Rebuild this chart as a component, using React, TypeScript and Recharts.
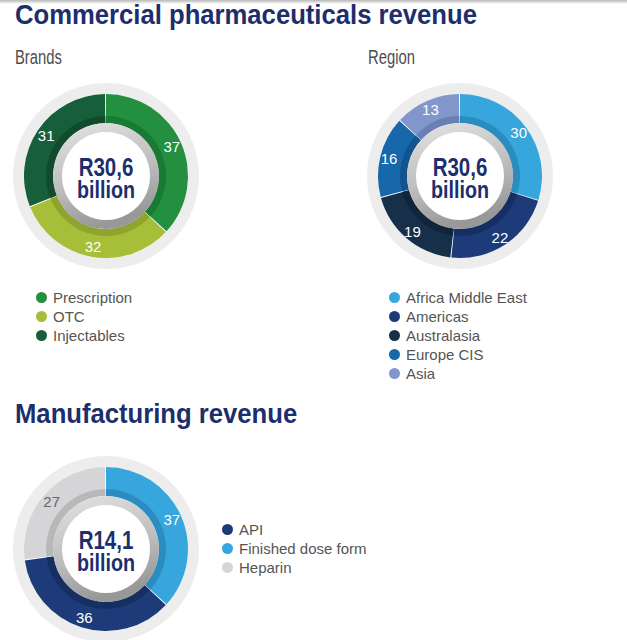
import { PieChart, Pie, Cell } from "recharts";

const RADIAN = Math.PI / 180;

// Commercial pharmaceuticals – brands (%)
const brandNames = ["Prescription", "OTC", "Injectables"];
const brandValues = [37, 32, 31];
const brandColors = ["#239040", "#a6be38", "#175e3a"];
const brandShades = ["#1a7a34", "#8ea42e", "#114a2d"];
const brandLabelColors = ["#ffffff", "#ffffff", "#ffffff"];

// Commercial pharmaceuticals – region (%)
const regionNames = ["Africa Middle East", "Americas", "Australasia", "Europe CIS", "Asia"];
const regionValues = [30, 22, 19, 16, 13];
const regionColors = ["#37a6dd", "#1d3b78", "#163049", "#1767ab", "#8197cc"];
const regionShades = ["#2b8cbf", "#162f62", "#10253a", "#12548e", "#6a80b4"];
const regionLabelColors = ["#ffffff", "#ffffff", "#ffffff", "#ffffff", "#ffffff"];

// Manufacturing revenue (%)
const mfgNames = ["API", "Finished dose form", "Heparin"];
const mfgValues = [36, 37, 27];
const mfgColors = ["#1d3b78", "#37a6dd", "#d5d5d7"];
const mfgShades = ["#162f62", "#2b8cbf", "#b8b8ba"];
const mfgLabelColors = ["#ffffff", "#ffffff", "#666666"];
// clockwise order of the slices, starting at 12 o'clock
const mfgPieOrder = [1, 0, 2];

const NAVY = "#1c2e6c";
const SANS = '"Liberation Sans", Arial, sans-serif';

type Slice = { name: string; value: number; color: string; shade: string; labelColor: string };

type DonutProps = {
  id: string;
  names: string[];
  values: number[];
  colors: string[];
  shades: string[];
  labelColors: string[];
  order?: number[];
  labelRadius: number;
  left: number;
  top: number;
  lines: string[];
};

const centerLine = (top: number, size: number) => ({
  position: "absolute" as const,
  left: 0,
  top,
  width: 200,
  textAlign: "center" as const,
  fontFamily: SANS,
  fontWeight: 700,
  fontSize: size,
  lineHeight: "22px",
  color: NAVY,
  transform: "scaleX(0.82)",
  transformOrigin: "100px 0",
});

function Donut({ id, names, values, colors, shades, labelColors, order, labelRadius, left, top, lines }: DonutProps) {
  const idx = order || names.map((_, i) => i);
  const data: Slice[] = idx.map((i) => ({
    name: names[i],
    value: values[i],
    color: colors[i],
    shade: shades[i],
    labelColor: labelColors[i],
  }));

  // eslint-disable-next-line @typescript-eslint/no-explicit-any
  const renderLabel = (props: any) => {
    const { cx, cy, midAngle, index, value } = props;
    const x = cx + labelRadius * Math.cos(-midAngle * RADIAN);
    const y = cy + labelRadius * Math.sin(-midAngle * RADIAN);
    return (
      <text
        x={x}
        y={y}
        fill={data[index].labelColor}
        textAnchor="middle"
        dominantBaseline="central"
        fontFamily={SANS}
        fontSize={15}
      >
        {value}
      </text>
    );
  };

  return (
    <div style={{ position: "absolute", left, top, width: 200, height: 200 }}>
      <PieChart width={200} height={200} margin={{ top: 0, right: 0, bottom: 0, left: 0 }}>
        <defs>
          <linearGradient id={id} x1="0" y1="0" x2="0.3" y2="1">
            <stop offset="0%" stopColor="#e4e4e4" />
            <stop offset="60%" stopColor="#bdbdbd" />
            <stop offset="100%" stopColor="#989898" />
          </linearGradient>
        </defs>
        <Pie
          data={[{ value: 1 }]}
          dataKey="value"
          cx="50%"
          cy="50%"
          innerRadius={82}
          outerRadius={93}
          fill="#ededed"
          stroke="none"
          isAnimationActive={false}
        />
        <Pie
          data={data}
          dataKey="value"
          cx="50%"
          cy="50%"
          startAngle={90}
          endAngle={-270}
          paddingAngle={0.7}
          innerRadius={53}
          outerRadius={82}
          stroke="none"
          label={renderLabel}
          labelLine={false}
          isAnimationActive={false}
        >
          {data.map((d, i) => (
            <Cell key={i} fill={d.color} />
          ))}
        </Pie>
        <Pie
          data={data}
          dataKey="value"
          cx="50%"
          cy="50%"
          startAngle={90}
          endAngle={-270}
          paddingAngle={0.7}
          innerRadius={53}
          outerRadius={60}
          stroke="none"
          isAnimationActive={false}
        >
          {data.map((d, i) => (
            <Cell key={i} fill={d.shade} />
          ))}
        </Pie>
        <Pie
          data={[{ value: 1 }]}
          dataKey="value"
          cx="50%"
          cy="50%"
          innerRadius={44}
          outerRadius={53}
          fill={`url(#${id})`}
          stroke="none"
          isAnimationActive={false}
        />
      </PieChart>
      <div style={centerLine(80, 25)}>{lines[0]}</div>
      <div style={centerLine(103, 24)}>{lines[1]}</div>
    </div>
  );
}

function LegendList({ names, colors, left, top }: { names: string[]; colors: string[]; left: number; top: number }) {
  return (
    <div style={{ position: "absolute", left, top }}>
      {names.map((n, i) => (
        <div key={n} style={{ display: "flex", alignItems: "center", height: 19 }}>
          <span
            style={{
              display: "inline-block",
              width: 11,
              height: 11,
              borderRadius: "50%",
              background: colors[i],
              marginRight: 6,
            }}
          />
          <span style={{ fontFamily: SANS, fontSize: 15, color: "#555555", lineHeight: "19px" }}>{n}</span>
        </div>
      ))}
    </div>
  );
}

const titleStyle = {
  position: "absolute" as const,
  left: 15,
  fontFamily: SANS,
  fontWeight: 700,
  fontSize: 27,
  lineHeight: "27px",
  color: NAVY,
  whiteSpace: "nowrap" as const,
  transform: "scaleX(0.95)",
  transformOrigin: "0 0",
};

const subStyle = {
  position: "absolute" as const,
  top: 47,
  fontFamily: SANS,
  fontSize: 20,
  lineHeight: "20px",
  color: "#4d4d4d",
  transform: "scaleX(0.74)",
  transformOrigin: "0 0",
};

export default function App() {
  return (
    <div
      style={{
        position: "absolute",
        left: 0,
        top: 0,
        width: 627,
        height: 640,
        overflow: "hidden",
        background: "#ffffff",
      }}
    >
      <div
        style={{
          position: "absolute",
          left: 0,
          top: 0,
          width: 627,
          height: 4,
          background: "linear-gradient(#b8b8b8, #ffffff)",
        }}
      />
      <div style={{ ...titleStyle, top: 2 }}>Commercial pharmaceuticals revenue</div>
      <div style={{ ...subStyle, left: 15 }}>Brands</div>
      <div style={{ ...subStyle, left: 368 }}>Region</div>

      <Donut
        id="bevel1"
        names={brandNames}
        values={brandValues}
        colors={brandColors}
        shades={brandShades}
        labelColors={brandLabelColors}
        labelRadius={72}
        left={6}
        top={76}
        lines={["R30,6", "billion"]}
      />
      <LegendList names={brandNames} colors={brandColors} left={36} top={288} />

      <Donut
        id="bevel2"
        names={regionNames}
        values={regionValues}
        colors={regionColors}
        shades={regionShades}
        labelColors={regionLabelColors}
        labelRadius={73}
        left={360}
        top={76}
        lines={["R30,6", "billion"]}
      />
      <LegendList names={regionNames} colors={regionColors} left={389} top={288} />

      <div style={{ ...titleStyle, top: 401 }}>Manufacturing revenue</div>
      <Donut
        id="bevel3"
        names={mfgNames}
        values={mfgValues}
        colors={mfgColors}
        shades={mfgShades}
        labelColors={mfgLabelColors}
        order={mfgPieOrder}
        labelRadius={72}
        left={6}
        top={449}
        lines={["R14,1", "billion"]}
      />
      <LegendList names={mfgNames} colors={mfgColors} left={222} top={520} />
    </div>
  );
}
